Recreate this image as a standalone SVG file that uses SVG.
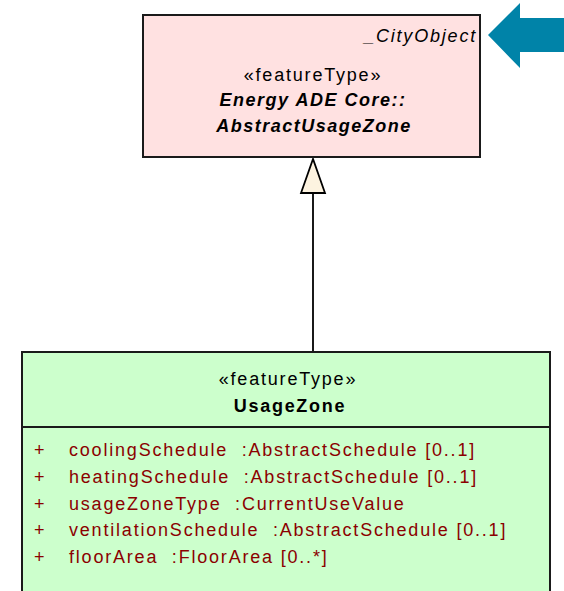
<svg xmlns="http://www.w3.org/2000/svg" width="564" height="591" viewBox="0 0 564 591">
<style>
text { font-family: "Liberation Sans", Arial, sans-serif; font-size: 18px; fill: #000; white-space: pre; letter-spacing: 1.8px; }
.c { text-anchor: middle; }
.bi { font-weight: bold; font-style: italic; letter-spacing: 1.5px; }
.b { font-weight: bold; letter-spacing: 1.7px; }
.attr { fill: #8B0000; }
.box { stroke: #1a1a1a; stroke-width: 2; }
</style>
<rect width="564" height="591" fill="#fff"/>
<g id="connectors">
  <line x1="313" y1="193" x2="313" y2="351" stroke="#000" stroke-width="1.8"/>
  <polygon points="313,159 301,193 325,193" fill="#FDF3E0" stroke="#000" stroke-width="1.8"/>
</g>
<g id="AbstractUsageZone">
  <rect class="box" x="143" y="15" width="337" height="142" fill="#FFE1E1"/>
  <text x="477" y="42" text-anchor="end" font-style="italic">_CityObject</text>
  <text class="c" x="313" y="81">«featureType»</text>
  <text class="c bi" x="313" y="106">Energy ADE Core::</text>
  <text class="c bi" x="314" y="132">AbstractUsageZone</text>
</g>
<g id="pointer">
  <polygon points="488,35 520,3 520,18 564,18 564,52 520,52 520,68" fill="#0083A8"/>
</g>
<g id="UsageZone">
  <rect class="box" x="22" y="352" width="528" height="250" fill="#CCFFCC"/>
  <line class="box" x1="22" y1="427" x2="550" y2="427"/>
  <text class="c" x="288" y="385">«featureType»</text>
  <text class="c b" x="290" y="412">UsageZone</text>
  <text class="attr" x="34" y="456">+</text>
  <text class="attr" x="69" y="456">coolingSchedule  :AbstractSchedule [0..1]</text>
  <text class="attr" x="34" y="483">+</text>
  <text class="attr" x="69" y="483">heatingSchedule  :AbstractSchedule [0..1]</text>
  <text class="attr" x="34" y="510">+</text>
  <text class="attr" x="69" y="510">usageZoneType  :CurrentUseValue</text>
  <text class="attr" x="34" y="536">+</text>
  <text class="attr" x="69" y="536">ventilationSchedule  :AbstractSchedule [0..1]</text>
  <text class="attr" x="34" y="563">+</text>
  <text class="attr" x="69" y="563">floorArea  :FloorArea [0..*]</text>
</g>
</svg>
